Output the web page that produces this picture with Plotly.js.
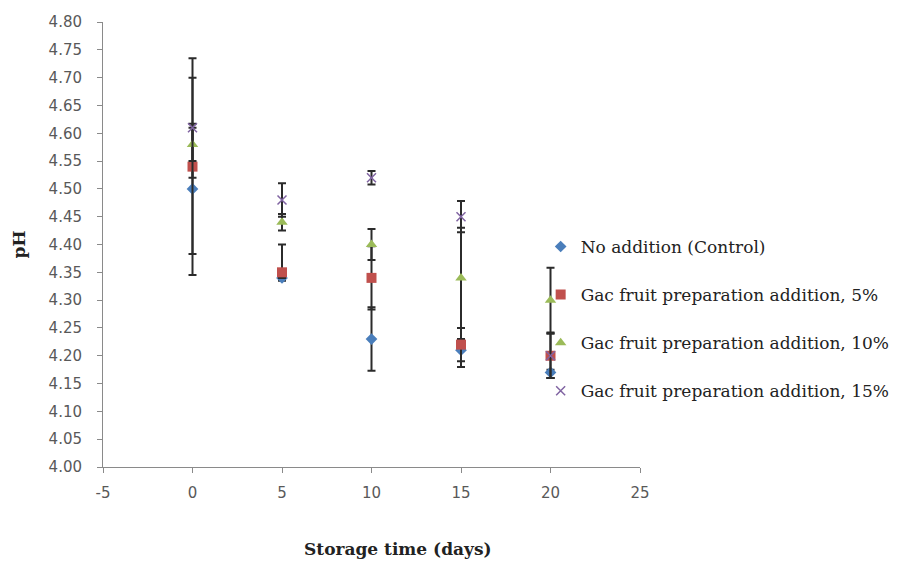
<!DOCTYPE html>
<html>
<head>
<meta charset="utf-8">
<script src="https://cdn.plot.ly/plotly-3.0.1.min.js"></script>
<style>html,body{margin:0;padding:0;background:#fff;}#chart{width:897px;height:565px;}</style>
</head>
<body>
<div id="chart"></div>
<script>
// Storage time (days)
const days = [0, 5, 10, 15, 20];

// pH values per treatment
const seriesNames = [
  "No addition (Control)",
  "Gac fruit preparation addition, 5%",
  "Gac fruit preparation addition, 10%",
  "Gac fruit preparation addition, 15%"
];
const phControl = [4.50, 4.34, 4.23, 4.21, 4.17];
const ph5 = [4.54, 4.35, 4.34, 4.22, 4.20];
const ph10 = [4.58, 4.44, 4.40, 4.34, 4.30];
const ph15 = [4.61, 4.48, 4.52, 4.45, 4.20];

// error bars (plus / minus)
const errControlPlus = [0.117, 0.010, 0.057, 0.020, 0.005];
const errControlMinus = [0.117, 0.005, 0.057, 0.030, 0.010];
const err5Plus = [0.195, 0.050, 0.057, 0.030, 0.040];
const err5Minus = [0.195, 0.010, 0.057, 0.030, 0.040];
const err10Plus = [0.030, 0.015, 0.028, 0.090, 0.058];
const err10Minus = [0.030, 0.015, 0.028, 0.090, 0.058];
const err15Plus = [0.090, 0.030, 0.012, 0.028, 0.040];
const err15Minus = [0.090, 0.030, 0.012, 0.028, 0.040];

const xTicks = [-5, 0, 5, 10, 15, 20, 25];
const yTicks = [4.00, 4.05, 4.10, 4.15, 4.20, 4.25, 4.30, 4.35, 4.40, 4.45, 4.50, 4.55, 4.60, 4.65, 4.70, 4.75, 4.80];

const xTitle = 'Storage time (days)';
const yTitle = 'pH';

const errStyle = {color: '#2b2b2b', thickness: 2, width: 4};

function mk(name, y, plus, minus, marker, group) {
  return {
    type: 'scatter', mode: 'markers', name: name, x: days, y: y,
    legendgroup: group,
    marker: marker,
    error_y: Object.assign({type: 'data', symmetric: false, array: plus, arrayminus: minus, visible: true}, errStyle)
  };
}

const traces = [
  mk(seriesNames[0], phControl, errControlPlus, errControlMinus, {symbol: 'diamond', size: 9, color: '#4a7ebb'}, 'a'),
  mk(seriesNames[1], ph5, err5Plus, err5Minus, {symbol: 'square', size: 10, color: '#c0504d'}, 'b'),
  mk(seriesNames[2], ph10, err10Plus, err10Minus, {symbol: 'triangle-up', size: 10, color: '#9bbb59'}, 'c'),
  mk(seriesNames[3], ph15, err15Plus, err15Minus, {symbol: 'x-thin', size: 9, color: '#8064a2', line: {color: '#8064a2', width: 1.5}}, 'd')
];

const tickFont = {family: 'DejaVu Sans, sans-serif', size: 15, color: '#595959'};
const serif = 'DejaVu Serif, serif';

const layout = {
  width: 897, height: 565,
  margin: {l: 103, r: 257, t: 22, b: 98, autoexpand: false},
  paper_bgcolor: '#ffffff', plot_bgcolor: '#ffffff',
  showlegend: true,
  legend: {
    x: 0.815, y: 0.535, xanchor: 'left', yanchor: 'top',
    font: {family: serif, size: 17, color: '#222'},
    tracegroupgap: 23, bgcolor: 'rgba(0,0,0,0)'
  },
  xaxis: {
    range: [-5, 25], tickvals: xTicks, ticktext: xTicks.map(String),
    showgrid: false, zeroline: false, showline: true, linecolor: '#8a8a8a', linewidth: 1,
    ticks: 'outside', ticklen: 5, tickcolor: '#8a8a8a', ticklabelstandoff: 7,
    tickfont: tickFont
  },
  yaxis: {
    range: [4.0, 4.8], tickvals: yTicks, ticktext: yTicks.map(v => v.toFixed(2)),
    showgrid: false, zeroline: false, showline: true, linecolor: '#8a8a8a', linewidth: 1,
    ticks: 'outside', ticklen: 5, tickcolor: '#8a8a8a', ticklabelstandoff: 12,
    tickfont: tickFont,
    title: {text: yTitle, standoff: 18,
      font: {family: serif, size: 17, color: '#222', weight: 'bold'}}
  },
  annotations: [{
    text: '<b>' + xTitle + '</b>', xref: 'paper', yref: 'paper',
    x: 0.55, y: -0.185, xanchor: 'center', yanchor: 'middle', showarrow: false,
    font: {family: serif, size: 17, color: '#222'}
  }]
};

Plotly.newPlot('chart', traces, layout, {displayModeBar: false, staticPlot: true});
</script>
</body>
</html>
